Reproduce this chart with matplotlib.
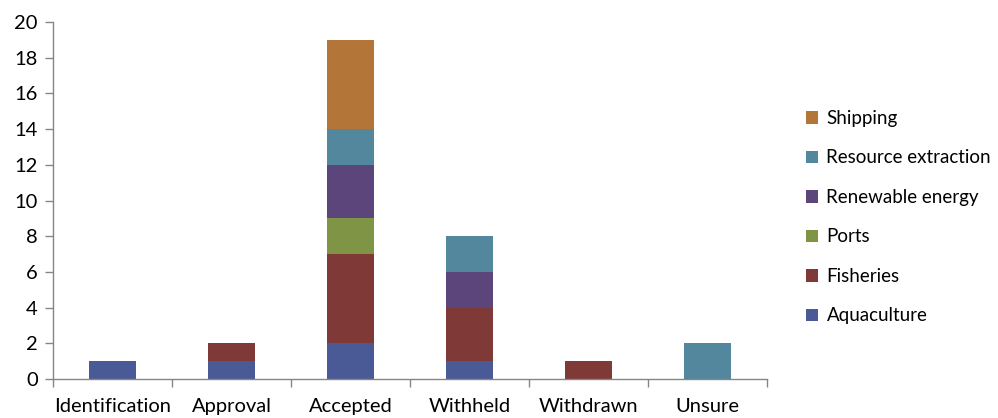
import numpy as np
import matplotlib.pyplot as plt
from matplotlib.patches import Patch

categories = ["Identification", "Approval", "Accepted", "Withheld", "Withdrawn", "Unsure"]
sectors = ["Aquaculture", "Fisheries", "Ports", "Renewable energy",
           "Resource extraction", "Shipping"]
aquaculture = [1, 1, 2, 1, 0, 0]
fisheries = [0, 1, 5, 3, 1, 0]
ports = [0, 0, 2, 0, 0, 0]
renewable = [0, 0, 3, 2, 0, 0]
resource = [0, 0, 2, 2, 0, 2]
shipping = [0, 0, 5, 0, 0, 0]

colors = ["#4A5A96", "#7F3937", "#7F9445", "#5C457A", "#53879E", "#B47538"]

plt.rcParams['font.family'] = ['Lato', 'DejaVu Sans']

fig = plt.figure(figsize=(9.98, 4.18), dpi=100)
ax = fig.add_axes([53 / 998, 1 - 379 / 418, 714 / 998, 357 / 418])

x = np.arange(len(categories))
bottom = np.zeros(len(categories))
for vals, c in zip([aquaculture, fisheries, ports, renewable, resource, shipping], colors):
    v = np.array(vals, dtype=float)
    ax.bar(x, v, width=0.4, bottom=bottom, color=c, edgecolor='none', zorder=2)
    bottom += v

ax.set_xlim(-0.5, len(categories) - 0.5)
ax.set_ylim(0, 20)
ax.set_yticks(range(0, 21, 2))
ax.set_xticks(x)
ax.set_xticklabels(categories)
ax.set_xticks(np.arange(-0.5, len(categories)), minor=True)
ax.tick_params(axis='x', which='major', length=0, pad=14, labelsize=14.5)
ax.tick_params(axis='x', which='minor', length=6, color='#868686', width=1)
ax.tick_params(axis='y', length=6, color='#868686', width=1, labelsize=14.5, pad=5)

for s in ['top', 'right']:
    ax.spines[s].set_visible(False)
for s in ['left', 'bottom']:
    ax.spines[s].set_color('#868686')
    ax.spines[s].set_linewidth(1)

handles = [Patch(facecolor=c, edgecolor='none') for c in colors]
leg = fig.legend(handles[::-1], sectors[::-1], loc='upper left',
                 bbox_to_anchor=(789 / 998, 1 - 93 / 418), frameon=False,
                 fontsize=13.5, handlelength=0.65, handleheight=0.65,
                 handletextpad=0.45, labelspacing=1.2)

fig.savefig("out.png", dpi=100)
